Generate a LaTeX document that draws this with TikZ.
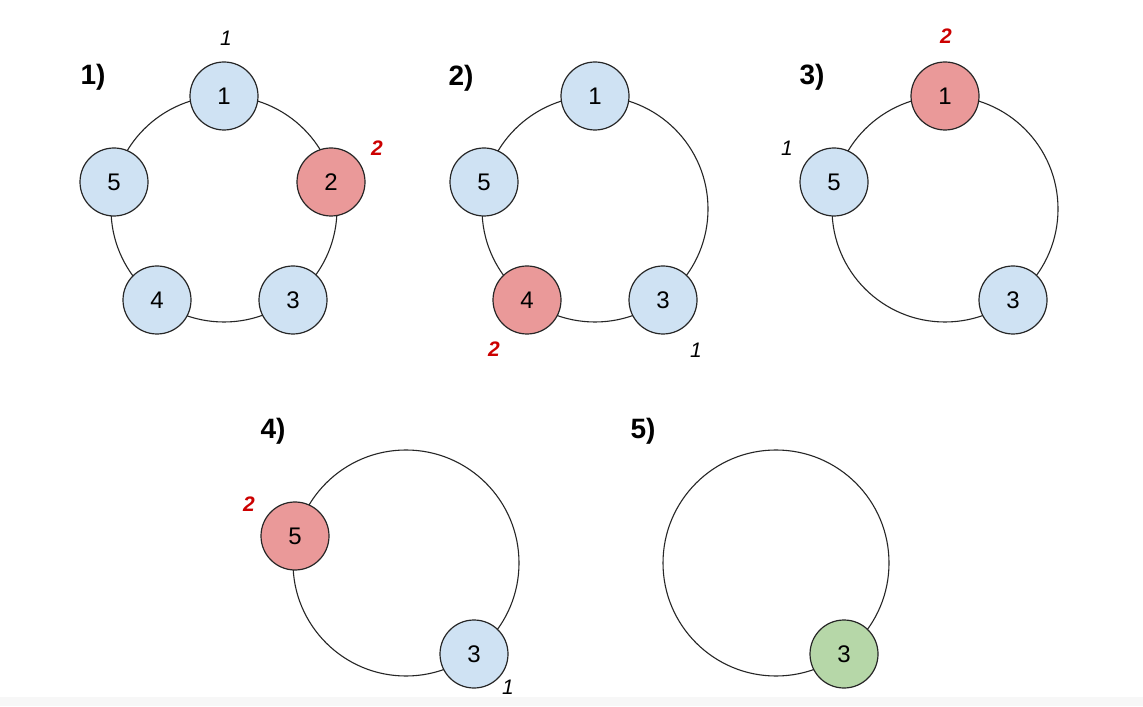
\documentclass[tikz,border=0pt]{standalone}
\usepackage{fontspec}
\setmainfont{Liberation Sans}
\usepackage{xcolor}
\definecolor{nodeblue}{HTML}{CFE2F3}
\definecolor{nodered}{HTML}{EA9999}
\definecolor{nodegreen}{HTML}{B6D7A8}
\definecolor{hitred}{HTML}{CC0000}

\begin{document}
\begin{tikzpicture}[x=0.5pt,y=0.5pt,every node/.style={font=\fontsize{12}{14}\selectfont},
  ring/.style={draw=black!85,line width=0.55pt},
  pnode/.style={circle,draw=black!85,line width=0.6pt,minimum size=34pt,inner sep=0pt},
  bluenode/.style={pnode,fill=nodeblue},
  rednode/.style={pnode,fill=nodered},
  greennode/.style={pnode,fill=nodegreen},
  steplbl/.style={font=\bfseries\fontsize{14}{16}\selectfont},
  onelbl/.style={font=\itshape\fontsize{10.5}{12}\selectfont},
  twolbl/.style={font=\bfseries\itshape\fontsize{10.5}{12}\selectfont,text=hitred}]
\useasboundingbox (0,0) rectangle (1143,706);
\fill[white] (0,0) rectangle (1143,706);
% 1)
\node[steplbl] (s1) at (93,629) {1)};
\draw[ring] (224,497) circle (113);
\node[bluenode] (a1) at (224,610) {1};
\node[rednode] (a2) at (331,524) {2};
\node[bluenode] (a3) at (293,406) {3};
\node[bluenode] (a4) at (157,406) {4};
\node[bluenode] (a5) at (114,524) {5};
\node[onelbl] (a1c) at (226,668) {1};
\node[twolbl] (a2c) at (377,558) {2};
% 2)
\node[steplbl] (s2) at (461,628) {2)};
\draw[ring] (595,497) circle (113);
\node[bluenode] (b1) at (595,610) {1};
\node[bluenode] (b3) at (663,406) {3};
\node[rednode] (b4) at (527,406) {4};
\node[bluenode] (b5) at (484,524) {5};
\node[twolbl] (b4c) at (494,357) {2};
\node[onelbl] (b3c) at (696,356) {1};
% 3)
\node[steplbl] (s3) at (812,629) {3)};
\draw[ring] (945,497) circle (113);
\node[rednode] (c1) at (945,610) {1};
\node[bluenode] (c3) at (1013,406) {3};
\node[bluenode] (c5) at (834,524) {5};
\node[twolbl] (c1c) at (946,670) {2};
\node[onelbl] (c5c) at (787,558) {1};
% 4)
\node[steplbl] (s4) at (273,275) {4)};
\draw[ring] (406,143) circle (113);
\node[rednode] (d5) at (295,170) {5};
\node[bluenode] (d3) at (474,52) {3};
\node[twolbl] (d5c) at (249,202) {2};
\node[onelbl] (d3c) at (508,19) {1};
% 5)
\node[steplbl] (s5) at (643,275) {5)};
\draw[ring] (776,143) circle (113);
\node[greennode] (e3) at (844,52) {3};
% bottom strip
\fill[black!3] (0,0) rectangle (1143,9);
\end{tikzpicture}
\end{document}
